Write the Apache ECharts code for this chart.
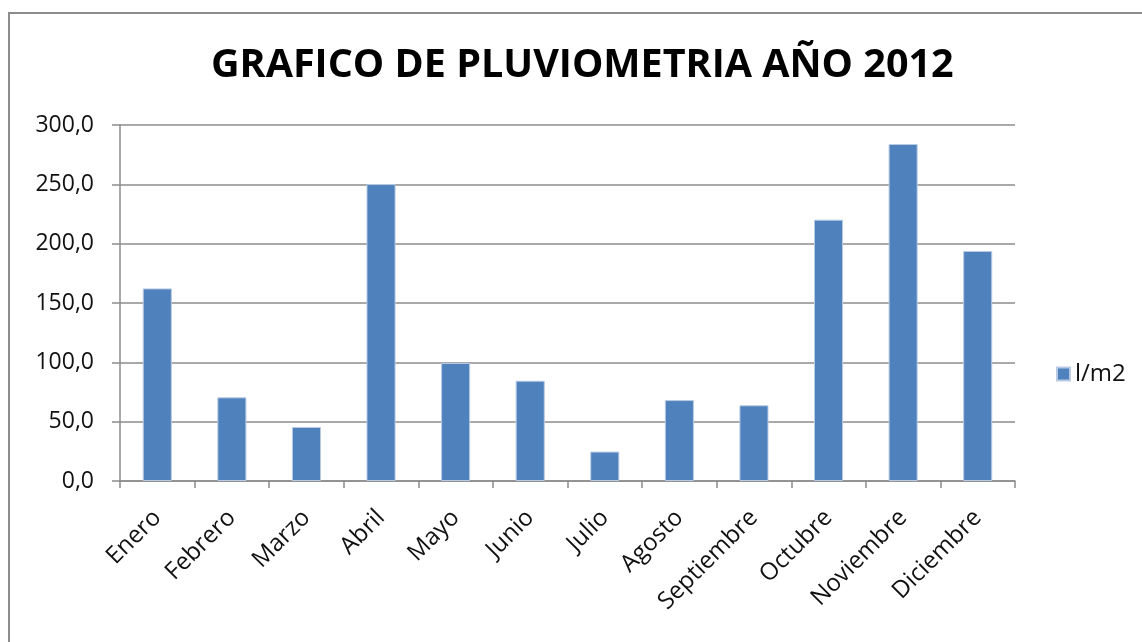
<!DOCTYPE html>
<html lang="es">
<head>
  <meta charset="utf-8" />
  <title>Pluviometria 2012</title>
  <script src="https://cdn.jsdelivr.net/npm/echarts@6/dist/echarts.min.js"></script>
  <style>
    html, body { margin: 0; padding: 0; background: #fff; }
  </style>
</head>
<body>
  <div id="main" style="width: 1142px;height:642px;"></div>
  <script type="text/javascript">
    // datos
    var meses = ['Enero', 'Febrero', 'Marzo', 'Abril', 'Mayo', 'Junio', 'Julio',
      'Agosto', 'Septiembre', 'Octubre', 'Noviembre', 'Diciembre'];
    var lluvia = [162.3, 70.5, 45.5, 250.2, 99.5, 84.5, 24.8, 68.2, 63.8, 220.2, 284.0, 193.8];
    var serieNombre = 'l/m2';
    var titulo = 'GRAFICO DE PLUVIOMETRIA AÑO 2012';

    var myChart = echarts.init(document.getElementById('main'));
    var gris = '#8c8c8c';
    var texto = '#111';

    var option = {
      animation: false,
      backgroundColor: '#fff',
      title: {
        text: titulo,
        left: 211,
        top: 46,
        padding: 0,
        textStyle: {
          fontFamily: 'Open Sans',
          fontWeight: 'bold',
          fontSize: 39.5,
          color: '#000'
        }
      },
      legend: {
        orient: 'vertical',
        left: 1056,
        top: 362,
        padding: 0,
        itemWidth: 13,
        itemHeight: 13,
        itemGap: 4,
        icon: 'rect',
        textStyle: { fontFamily: 'Open Sans', fontSize: 24, color: texto },
        data: [serieNombre]
      },
      grid: {
        left: 120,
        right: 127,
        top: 125,
        bottom: 161,
        containLabel: false,
        outerBoundsMode: 'none'
      },
      xAxis: {
        type: 'category',
        data: meses,
        axisLine: { lineStyle: { color: gris, width: 1.5 } },
        axisTick: { show: true, length: 7, lineStyle: { color: gris, width: 1.5 } },
        axisLabel: {
          interval: 0,
          rotate: 45,
          margin: 33,
          fontFamily: 'Open Sans',
          fontSize: 24,
          color: texto
        }
      },
      yAxis: {
        type: 'value',
        min: 0,
        max: 300,
        interval: 50,
        axisLine: { show: true, lineStyle: { color: gris, width: 1.5 } },
        axisTick: { show: true, length: 8, lineStyle: { color: gris, width: 1.5 } },
        splitLine: { lineStyle: { color: gris, width: 1.5 } },
        axisLabel: {
          margin: 26,
          fontFamily: 'Open Sans',
          fontSize: 23,
          color: texto,
          formatter: function (v) {
            return v.toFixed(1).replace('.', ',');
          }
        }
      },
      graphic: [{
        type: 'rect',
        shape: { x: 9, y: 13, width: 1200, height: 700 },
        style: { fill: null, stroke: gris, lineWidth: 2 },
        silent: true
      }],
      series: [{
        name: serieNombre,
        type: 'bar',
        data: lluvia,
        barCategoryGap: '61%',
        itemStyle: { color: '#4f81bd', borderColor: '#b9cbe4', borderWidth: 1 }
      }]
    };
    myChart.setOption(option);
  </script>
</body>
</html>
